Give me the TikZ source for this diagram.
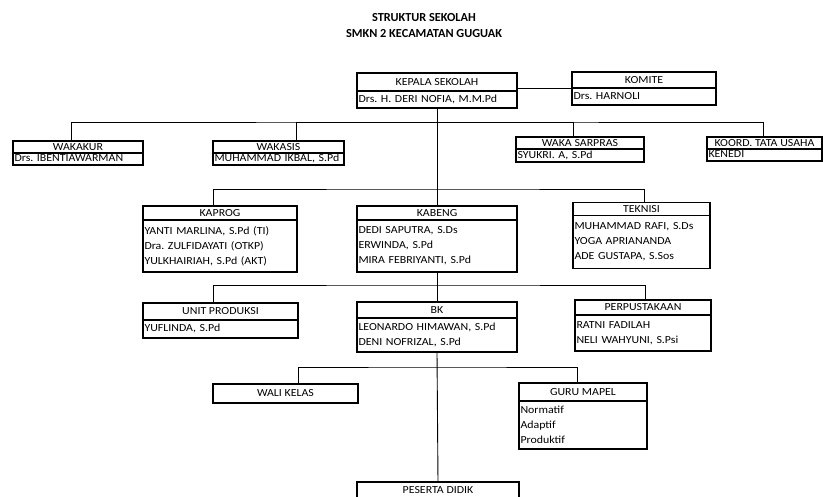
\documentclass[tikz,border=0pt]{standalone}
\usepackage{fontspec}
\setmainfont{Carlito}[FakeStretch=1.1]
\newfontfamily\titlefont{Carlito}
\usetikzlibrary{positioning}
\tikzset{
  head/.style={rectangle,draw=black,line width=1.3pt,inner sep=0pt,outer sep=0pt,
    text height=7pt,text depth=0.5pt,font=\fontsize{10.8}{15}\selectfont\frenchspacing},
  body/.style={rectangle,draw=black,line width=1.3pt,inner xsep=1.5pt,inner ysep=0pt,
    outer sep=0pt,align=left,font=\fontsize{10.8}{15}\selectfont\frenchspacing},
  line1/.style={text height=7pt,text depth=1pt},
  link/.style={line width=0.9pt,draw=black},
}
\begin{document}
\begin{tikzpicture}[x=1pt,y=-1pt]
\useasboundingbox (0,0) rectangle (823,497);

% title
\node[font=\titlefont\fontsize{12.3}{16}\selectfont\bfseries,align=center] (title) at (424,26)
  {STRUKTUR SEKOLAH\\SMKN 2 KECAMATAN GUGUAK};

% top
\node[head,minimum width=160,minimum height=18] (kepala) at (437,82) {KEPALA SEKOLAH};
\node[body,line1,text width=157,minimum height=17,below=0pt of kepala] (kepalab) {Drs. H. DERI NOFIA, M.M.Pd};

\node[head,minimum width=144,minimum height=16] (komite) at (644,80) {KOMITE};
\node[body,line1,text width=141,minimum height=17,below=0pt of komite] (komiteb) {Drs. HARNOLI};

% wakil
\node[head,minimum width=130,minimum height=12] (wakakur) at (78,147) {WAKAKUR};
\node[body,line1,text width=127,minimum height=12,below=0pt of wakakur] (wakakurb) {Drs. IBENTIAWARMAN};

\node[head,minimum width=131,minimum height=12] (wakasis) at (278.5,147) {WAKASIS};
\node[body,line1,text width=128,minimum height=12,below=0pt of wakasis] (wakasisb) {MUHAMMAD IKBAL, S.Pd};

\node[head,minimum width=128,minimum height=12] (sarpras) at (580,143) {WAKA SARPRAS};
\node[body,line1,text width=125,minimum height=13,below=0pt of sarpras] (sarprasb) {SYUKRI. A, S.Pd};

\node[head,minimum width=115,minimum height=12] (koord) at (764.5,143) {KOORD. TATA USAHA};
\node[body,line1,text width=112,minimum height=12,below=0pt of koord] (koordb) {KENEDI};

% kaprog row
\node[head,minimum width=154,minimum height=14] (kaprog) at (220,213) {KAPROG};
\node[body,text width=151,minimum height=52,below=0pt of kaprog] (kaprogb)
  {YANTI MARLINA, S.Pd (TI)\\Dra. ZULFIDAYATI (OTKP)\\YULKHAIRIAH, S.Pd (AKT)};

\node[head,minimum width=160,minimum height=14] (kabeng) at (437,213) {KABENG};
\node[body,text width=157,minimum height=52,below=0pt of kabeng] (kabengb)
  {DEDI SAPUTRA, S.Ds\\ERWINDA, S.Pd\\MIRA FEBRIYANTI, S.Pd};

\node[head,minimum width=137,minimum height=12.5] (teknisi) at (641.5,209) {TEKNISI};
\node[body,text width=134,minimum height=53,below=0pt of teknisi] (teknisib)
  {MUHAMMAD RAFI, S.Ds\\YOGA APRIANANDA\\ADE GUSTAPA, S.Sos};

% unit row
\node[head,minimum width=155,minimum height=17] (unit) at (220.5,311.5) {UNIT PRODUKSI};
\node[body,line1,text width=152,minimum height=18,below=0pt of unit] (unitb) {YUFLINDA, S.Pd};

\node[head,minimum width=160,minimum height=16] (bk) at (437,310) {BK};
\node[body,text width=157,minimum height=34,below=0pt of bk] (bkb)
  {LEONARDO HIMAWAN, S.Pd\\DENI NOFRIZAL, S.Pd};

\node[head,minimum width=136,minimum height=15] (perpus) at (643,307.5) {PERPUSTAKAAN};
\node[body,text width=133,minimum height=36,below=0pt of perpus] (perpusb)
  {RATNI FADILAH\\NELI WAHYUNI, S.Psi};

% guru row
\node[head,minimum width=145,minimum height=19] (wali) at (285.5,393.5) {WALI KELAS};

\node[head,minimum width=128,minimum height=18] (guru) at (583,392) {GURU MAPEL};
\node[body,text width=125,minimum height=48,below=0pt of guru] (gurub)
  {Normatif\\Adaptif\\Produktif};

\node[head,minimum width=162,minimum height=17] (peserta) at (438,490.5) {PESERTA DIDIK};

% bus lines
\coordinate (bus1) at (437,122);
\coordinate (bus2) at (437,189);
\coordinate (bus3) at (437,285);
\coordinate (bus4) at (437,367);

% connectors
\draw[link] (kepala.east |- komite.south) -- (komite.south west);
\draw[link] (kepalab.south) -- (kabeng.north);
\draw[link] (kabengb.south) -- (bk.north);
\draw[link] (bkb.south) -- (peserta.north);

\draw[link] ([xshift=-7]wakakur.north) |- (bus1) -| ([xshift=-1.5]koord.north);
\draw[link] ([xshift=17.5]wakasis.north) |- (bus1);
\draw[link] ([xshift=-7]sarpras.north) |- (bus1);

\draw[link] ([xshift=-7]kaprog.north) |- (bus2) -| ([xshift=2.5]teknisi.north);
\draw[link] ([xshift=-7.5]unit.north) |- (bus3) -| ([xshift=2]perpus.north);
\draw[link] ([xshift=12.5]wali.north) |- (bus4) -| ([xshift=-6]guru.north);
\end{tikzpicture}
\end{document}
